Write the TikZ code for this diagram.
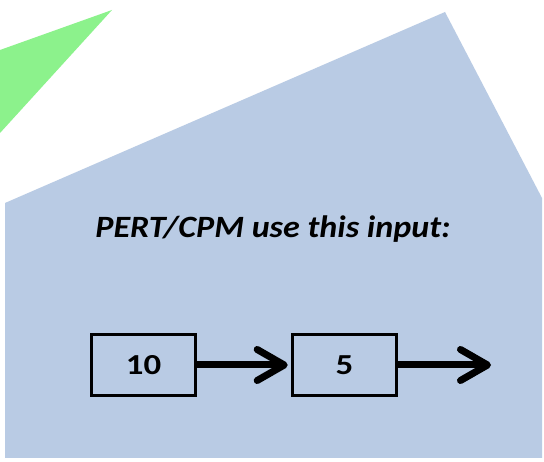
\documentclass[tikz,border=0pt]{standalone}
\usepackage{fontspec}
\usepackage{graphicx}
\setmainfont{Carlito}
\usetikzlibrary{arrows.meta}
\definecolor{bgblue}{RGB}{185,203,228}
\definecolor{tri}{RGB}{140,242,140}
\begin{document}
\begin{tikzpicture}[x=1pt,y=-1pt,
  taskbox/.style={draw=black,line width=3.6pt,minimum width=104pt,minimum height=61pt,inner sep=0pt,font=\fontsize{29}{30}\selectfont\bfseries},
  flow/.style={line width=7pt,-{Straight Barb[length=27pt,width=31pt,line cap=round,line join=round]}}]
\useasboundingbox (0,0) rectangle (544,462);
\fill[white] (0,0) rectangle (544,462);
\fill[tri] (112,10) -- (0,50) -- (0,133) -- cycle;
\fill[bgblue] (5,203) -- (445,12) -- (542,198) -- (542,458) -- (5,458) -- cycle;
\node[font=\fontsize{31}{34}\selectfont\bfseries\itshape,anchor=base,inner sep=0pt] (title) at (273,238) {\scalebox{1.1}[1]{PERT/CPM use this input:}};
\node[taskbox] (a) at (143.5,365) {\scalebox{1.2}[1]{10}};
\node[taskbox] (b) at (344.5,365) {\scalebox{1.2}[1]{5}};
\coordinate (end) at (491,365);
\draw[flow] (a.east) -- ([xshift=-3pt]b.west);
\draw[flow] (b.east) -- (end);
\end{tikzpicture}
\end{document}
